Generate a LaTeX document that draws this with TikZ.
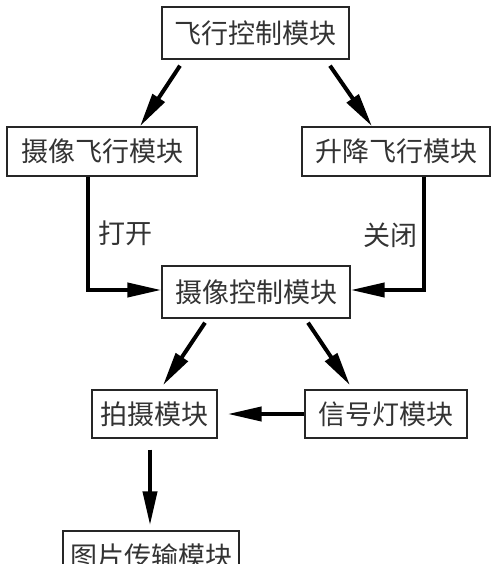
\documentclass[tikz,border=0pt]{standalone}
\usepackage{fontspec}
\newfontfamily\cjk{Noto Sans CJK SC}
\usetikzlibrary{arrows.meta,calc}
\tikzset{
  box/.style={draw=black!85, line width=1.4pt, fill=white, inner sep=0pt, font=\cjk\fontsize{27}{30}\selectfont, text=black!80},
  arr/.style={line width=4pt, -{Triangle[length=34pt,width=14pt]}},
  lab/.style={font=\cjk\fontsize{27}{30}\selectfont, text=black!80, inner sep=0pt}
}
\begin{document}
\begin{tikzpicture}[x=1pt,y=-1pt]
\useasboundingbox (0,0) rectangle (500,564);
\fill[white] (0,0) rectangle (500,564);
\node[box, minimum width=187pt, minimum height=52pt] (b1) at (255.5,33) {飞行控制模块};
\node[box, minimum width=190pt, minimum height=49pt] (b2) at (102,151.5) {摄像飞行模块};
\node[box, minimum width=188pt, minimum height=49pt] (b3) at (396,151.5) {升降飞行模块};
\node[box, minimum width=188pt, minimum height=52pt] (b4) at (256,292) {摄像控制模块};
\node[box, minimum width=125pt, minimum height=48pt] (b5) at (154.5,414) {拍摄模块};
\node[box, minimum width=162pt, minimum height=48pt] (b6) at (386,414) {信号灯模块};
\node[box, minimum width=176pt, minimum height=50pt] (b7) at (151,556) {图片传输模块};
\node[lab] (l1) at (125,233) {打开};
\node[lab] (l2) at (390,235) {关闭};
\draw[arr] ($(b1.south)+(-75.5,6)$) -- (b2.north -| 140,0);
\draw[arr] ($(b1.south)+(74.5,6)$) -- (b3.north -| 372,0);
\draw[arr] (b2.south -| 88,0) |- ($(b4.west)+(0,-2)$);
\draw[arr] (b3.south -| 424,0) |- ($(b4.east)+(0,-2)$);
\draw[arr] ($(b4.south)+(-51,4)$) -- ($(b5.north)+(8.5,-4)$);
\draw[arr] ($(b4.south)+(52,4)$) -- ($(b6.north)+(-36,-4)$);
\draw[arr] (b6.west) -- ($(b5.east)+(10,0)$);
\draw[arr] ($(b5.south)+(-4.5,11)$) -- ($(b7.north)+(-1,-5)$);
\end{tikzpicture}
\end{document}
